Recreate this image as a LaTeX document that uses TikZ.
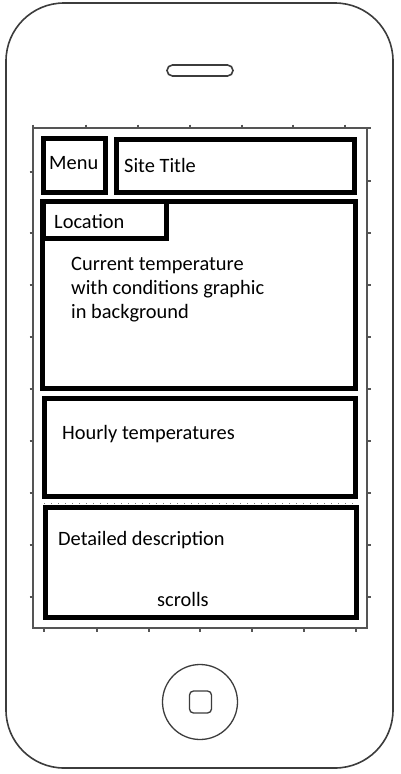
\documentclass[tikz,border=0pt]{standalone}
\usepackage{fontspec}
\setmainfont{Carlito}
\definecolor{phonegray}{RGB}{60,60,60}
\definecolor{screengray}{RGB}{85,85,85}
\definecolor{dotgray}{RGB}{120,120,120}
\begin{document}
\begin{tikzpicture}[x=1pt,y=-1pt,
  phone/.style={draw=phonegray, line width=1.6pt},
  screen/.style={draw=screengray, line width=1.5pt},
  box/.style={draw=black, line width=5pt},
  lbl/.style={anchor=base west, inner sep=0pt, font=\fontsize{20.4}{24}\selectfont},
  tickmark/.style={draw=screengray, line width=2.8pt}]
\useasboundingbox (0,0) rectangle (400,774);
\fill[white] (0,0) rectangle (400,774);
% phone body
\draw[phone, rounded corners=58pt] (6,3) rectangle (393,768);
% speaker
\draw[phone, rounded corners=5.5pt] (167,65) rectangle (233,76);
% home button
\node[circle, draw=phonegray, line width=1.3pt, minimum size=75pt, inner sep=0pt] (home) at (200,702) {};
\node[draw=phonegray, line width=1.3pt, rounded corners=4pt, minimum size=22pt, inner sep=0pt] (homesq) at (200.5,702) {};
% screen
\draw[screen] (33,128) rectangle (367,628);
% ticks
\foreach \x in {33,86,138,190,242,293,345}
  \draw[tickmark] (\x,124.5) -- (\x,128);
\foreach \y in {128,181,233,285,337,389,441,493,545,597}
  \draw[tickmark] (367,\y) -- (370.5,\y);
\foreach \y in {172,233,285,337,389,441,493,545,597}
  \draw[tickmark] (29.5,\y) -- (33,\y);
\foreach \x in {44,97,149,200,252,304,356}
  \draw[tickmark] (\x,628) -- (\x,631.5);
% dotted separator
\draw[dotgray, line width=1pt, dash pattern=on 1pt off 6pt] (44,503) -- (356,503);
% boxes
\draw[box] (43.5,138.5) rectangle (105.5,192.5);
\draw[box] (116.5,139.5) rectangle (354.5,192.5);
\draw[box] (42.5,201.5) rectangle (355.5,388.5);
\draw[box] (43,201.5) rectangle (166.5,238);
\draw[box] (44.5,398.5) rectangle (355.5,496.5);
\draw[box] (45.5,507.5) rectangle (356.5,617.5);
% labels
\node[lbl] (menu) at (49,169) {Menu};
\node[lbl] (title) at (124,172) {Site Title};
\node[lbl] (loc) at (54,228) {Location};
\node[lbl] (cur1) at (71,270) {Current temperature};
\node[lbl] (cur2) at (71,294) {with conditions graphic};
\node[lbl] (cur3) at (71,318) {in background};
\node[lbl] (hourly) at (62,439) {Hourly temperatures};
\node[lbl] (detail) at (58,545) {Detailed description};
\node[lbl] (scroll) at (157,606) {scrolls};
\end{tikzpicture}
\end{document}
